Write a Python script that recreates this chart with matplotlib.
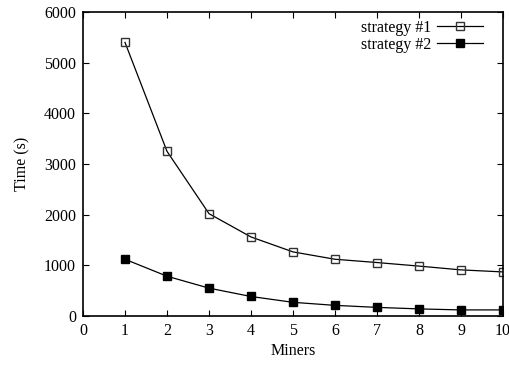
import numpy as np
import matplotlib
matplotlib.use('Agg')
import matplotlib.pyplot as plt

# Data.
miners = [1, 2, 3, 4, 5, 6, 7, 8, 9, 10]
strategy1 = [5400, 3250, 2020, 1560, 1265, 1120, 1055, 985, 910, 870]
strategy2 = [1120, 785, 550, 385, 270, 210, 170, 140, 120, 120]

plt.rcParams['font.family'] = ['Liberation Serif', 'DejaVu Serif']
plt.rcParams['font.size'] = 11.5

fig = plt.figure(figsize=(5.09, 3.68), dpi=100)
ax = fig.add_axes([83 / 509, 1 - 316 / 368, (503 - 83) / 509, (316 - 12) / 368])

ax.plot(miners, strategy1, color='black', lw=0.9, marker='s', ms=5.2,
        mfc='none', mec='#333333', mew=1.0, label='strategy #1')
ax.plot(miners, strategy2, color='black', lw=0.9, marker='s', ms=5.2,
        mfc='black', mec='black', label='strategy #2')

ax.set_xlim(0, 10)
ax.set_ylim(0, 6000)
ax.set_xticks(np.arange(0, 11, 1))
ax.set_yticks(np.arange(0, 6001, 1000))
ax.tick_params(direction='in', top=True, right=True, length=4, width=0.8, pad=5)
for s in ax.spines.values():
    s.set_linewidth(1.2)

ax.set_xlabel('Miners', labelpad=3)
ax.set_ylabel('Time (s)', labelpad=10)

# gnuplot-style key: text on the left, sample on the right
leg = ax.legend(loc='upper right', frameon=False, markerfirst=False,
                handlelength=2.9, handletextpad=0.35, labelspacing=0.05,
                borderaxespad=0.1, bbox_to_anchor=(0.972, 1.0))

fig.savefig('out.png', dpi=100)
